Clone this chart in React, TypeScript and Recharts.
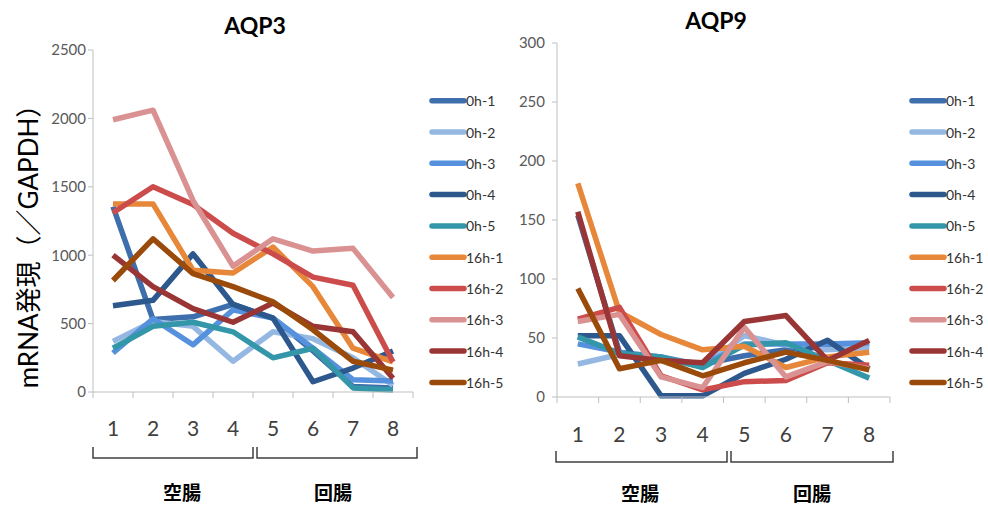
import React from 'react';
import { LineChart, Line, XAxis, YAxis } from 'recharts';

const categories = ['1', '2', '3', '4', '5', '6', '7', '8'];
const seriesNames = ['0h-1', '0h-2', '0h-3', '0h-4', '0h-5', '16h-1', '16h-2', '16h-3', '16h-4', '16h-5'];
const seriesColors = ['#3E6EAB', '#95B8E3', '#5591DC', '#2D588D', '#3397A9', '#E6873A', '#CC4C4C', '#D99291', '#9A3535', '#9A4A0A'];

const aqp3Ticks = [0, 500, 1000, 1500, 2000, 2500];
const aqp9Ticks = [0, 50, 100, 150, 200, 250, 300];

// AQP3
const aqp3_0h1 = [1355, 530, 550, 640, 540, 300, 40, 30];
const aqp3_0h2 = [370, 515, 480, 225, 440, 390, 250, 50];
const aqp3_0h3 = [285, 535, 345, 600, 540, 320, 90, 80];
const aqp3_0h4 = [630, 670, 1010, 640, 540, 75, 175, 300];
const aqp3_0h5 = [320, 480, 510, 440, 250, 320, 30, 15];
const aqp3_16h1 = [1375, 1375, 890, 870, 1060, 770, 320, 220];
const aqp3_16h2 = [1310, 1500, 1370, 1160, 1010, 840, 780, 220];
const aqp3_16h3 = [1990, 2060, 1400, 920, 1120, 1030, 1050, 690];
const aqp3_16h4 = [1000, 770, 610, 510, 650, 480, 440, 100];
const aqp3_16h5 = [815, 1120, 865, 770, 660, 455, 225, 160];

// AQP9
const aqp9_0h1 = [154, 38, 32, 28, 35, 40, 44, 44];
const aqp9_0h2 = [28, 36, 32, 26, 52, 44, 40, 42];
const aqp9_0h3 = [45, 38, 34, 27, 45, 45, 45, 46];
const aqp9_0h4 = [52, 52, 1, 1, 20, 32, 48, 24];
const aqp9_0h5 = [51, 37, 34, 25, 44, 46, 31, 16];
const aqp9_16h1 = [181, 72, 53, 40, 43, 25, 34, 38];
const aqp9_16h2 = [66, 76, 18, 6, 13, 14, 29, 27];
const aqp9_16h3 = [64, 70, 17, 8, 59, 17, 30, 24];
const aqp9_16h4 = [157, 35, 31, 29, 64, 69, 31, 48];
const aqp9_16h5 = [92, 24, 31, 18, 29, 38, 31, 23];

const aqp3Series = [aqp3_0h1, aqp3_0h2, aqp3_0h3, aqp3_0h4, aqp3_0h5, aqp3_16h1, aqp3_16h2, aqp3_16h3, aqp3_16h4, aqp3_16h5];
const aqp9Series = [aqp9_0h1, aqp9_0h2, aqp9_0h3, aqp9_0h4, aqp9_0h5, aqp9_16h1, aqp9_16h2, aqp9_16h3, aqp9_16h4, aqp9_16h5];

const buildData = (series: number[][]) =>
  categories.map((c, i) => {
    const row: Record<string, string | number> = { cat: c };
    seriesNames.forEach((n, k) => {
      row[n] = series[k][i];
    });
    return row;
  });

const aqp3Data = buildData(aqp3Series);
const aqp9Data = buildData(aqp9Series);

const FONT = 'Lato, "Noto Sans CJK JP", sans-serif';
const AXIS = '#BFBFBF';

const CatTick = (props: any) => {
  const { x, y, payload, index, half, labelDy } = props;
  return (
    <g>
      <line x1={x - half} x2={x - half} y1={y} y2={y + 6} stroke={AXIS} strokeWidth={1} />
      {index === categories.length - 1 && (
        <line x1={x + half} x2={x + half} y1={y} y2={y + 6} stroke={AXIS} strokeWidth={1} />
      )}
      <text x={x} y={y + labelDy} textAnchor="middle" dominantBaseline="central" fontSize={21} fill="#404040" fontFamily={FONT}>
        {payload.value}
      </text>
    </g>
  );
};

type PanelProps = {
  data: any[];
  ticks: number[];
  left: number;
  width: number;
  plotLeft: number;
  plotRight: number;
  plotTop: number;
  plotBottom: number;
  tickMargin: number;
  labelDy: number;
};

const Panel = ({ data, ticks, left, width, plotLeft, plotRight, plotTop, plotBottom, tickMargin, labelDy }: PanelProps) => {
  const height = 508;
  const xAxisHeight = 40;
  const half = (plotRight - plotLeft) / categories.length / 2;
  return (
    <div style={{ position: 'absolute', left, top: 0, width, height }}>
      <LineChart
        width={width}
        height={height}
        data={data}
        margin={{ top: plotTop, right: width - (plotRight - left), left: 0, bottom: height - plotBottom - xAxisHeight }}
      >
        <XAxis
          dataKey="cat"
          height={xAxisHeight}
          padding={{ left: half, right: half }}
          axisLine={{ stroke: AXIS, strokeWidth: 1 }}
          tickLine={false}
          tickSize={0}
          tickMargin={0}
          interval={0}
          tick={<CatTick half={half} labelDy={labelDy} />}
        />
        <YAxis
          width={plotLeft - left}
          domain={[ticks[0], ticks[ticks.length - 1]]}
          ticks={ticks}
          interval={0}
          axisLine={{ stroke: AXIS, strokeWidth: 1 }}
          tickLine={{ stroke: AXIS, strokeWidth: 1 }}
          tickSize={5}
          tickMargin={tickMargin}
          tick={{ fontSize: 15, fill: '#595959', fontFamily: FONT }}
        />
        {seriesNames.map((n, k) => (
          <Line
            key={n}
            dataKey={n}
            type="linear"
            stroke={seriesColors[k]}
            strokeWidth={5.5}
            strokeLinejoin="round"
            dot={false}
            activeDot={false}
            isAnimationActive={false}
          />
        ))}
      </LineChart>
    </div>
  );
};

const LegendBlock = ({ lineX }: { lineX: number }) => (
  <g>
    {seriesNames.map((n, k) => {
      const y = 100.7 + k * 31.3;
      return (
        <g key={n}>
          <line x1={lineX} x2={lineX + 32} y1={y} y2={y} stroke={seriesColors[k]} strokeWidth={5.5} strokeLinecap="round" />
          <text x={lineX + 34} y={y} dominantBaseline="central" fontSize={14} fill="#333" fontFamily={FONT}>
            {n}
          </text>
        </g>
      );
    })}
  </g>
);

const Bracket = ({ x1, x2, top, bottom }: { x1: number; x2: number; top: number; bottom: number }) => (
  <path d={`M${x1},${top} V${bottom} H${x2} V${top}`} fill="none" stroke="#404040" strokeWidth={1.5} />
);

export default function App() {
  return (
    <div style={{ position: 'absolute', left: 0, top: 0, width: 988, height: 508, background: '#fff', overflow: 'hidden' }}>
      <Panel data={aqp3Data} ticks={aqp3Ticks} left={0} width={430} plotLeft={93} plotRight={413} plotTop={50} plotBottom={392} tickMargin={2} labelDy={35} />
      <Panel data={aqp9Data} ticks={aqp9Ticks} left={470} width={430} plotLeft={557} plotRight={890} plotTop={43} plotBottom={397} tickMargin={7} labelDy={36} />
      <svg width={988} height={508} style={{ position: 'absolute', left: 0, top: 0, pointerEvents: 'none' }}>
        <text x={255} y={25} textAnchor="middle" dominantBaseline="central" fontSize={23} fontWeight="bold" fill="#000" fontFamily={FONT}>AQP3</text>
        <text x={716} y={20} textAnchor="middle" dominantBaseline="central" fontSize={23} fontWeight="bold" fill="#000" fontFamily={FONT}>AQP9</text>
        <text
          x={28}
          y={240}
          transform="rotate(-90 28 240)"
          textAnchor="middle"
          dominantBaseline="central"
          fontSize={26}
          fill="#000"
          fontFamily={FONT}
        >
          mRNA発現（／GAPDH）
        </text>
        <LegendBlock lineX={432} />
        <LegendBlock lineX={912} />
        <Bracket x1={93} x2={253} top={447} bottom={458} />
        <Bracket x1={257} x2={417} top={447} bottom={458} />
        <Bracket x1={556} x2={727} top={451} bottom={462} />
        <Bracket x1={731} x2={893} top={451} bottom={462} />
        <text x={182} y={492} textAnchor="middle" dominantBaseline="central" fontSize={19} fontWeight="bold" fill="#000" fontFamily={FONT}>空腸</text>
        <text x={333} y={492} textAnchor="middle" dominantBaseline="central" fontSize={19} fontWeight="bold" fill="#000" fontFamily={FONT}>回腸</text>
        <text x={640} y={493} textAnchor="middle" dominantBaseline="central" fontSize={19} fontWeight="bold" fill="#000" fontFamily={FONT}>空腸</text>
        <text x={812} y={493} textAnchor="middle" dominantBaseline="central" fontSize={19} fontWeight="bold" fill="#000" fontFamily={FONT}>回腸</text>
      </svg>
    </div>
  );
}
